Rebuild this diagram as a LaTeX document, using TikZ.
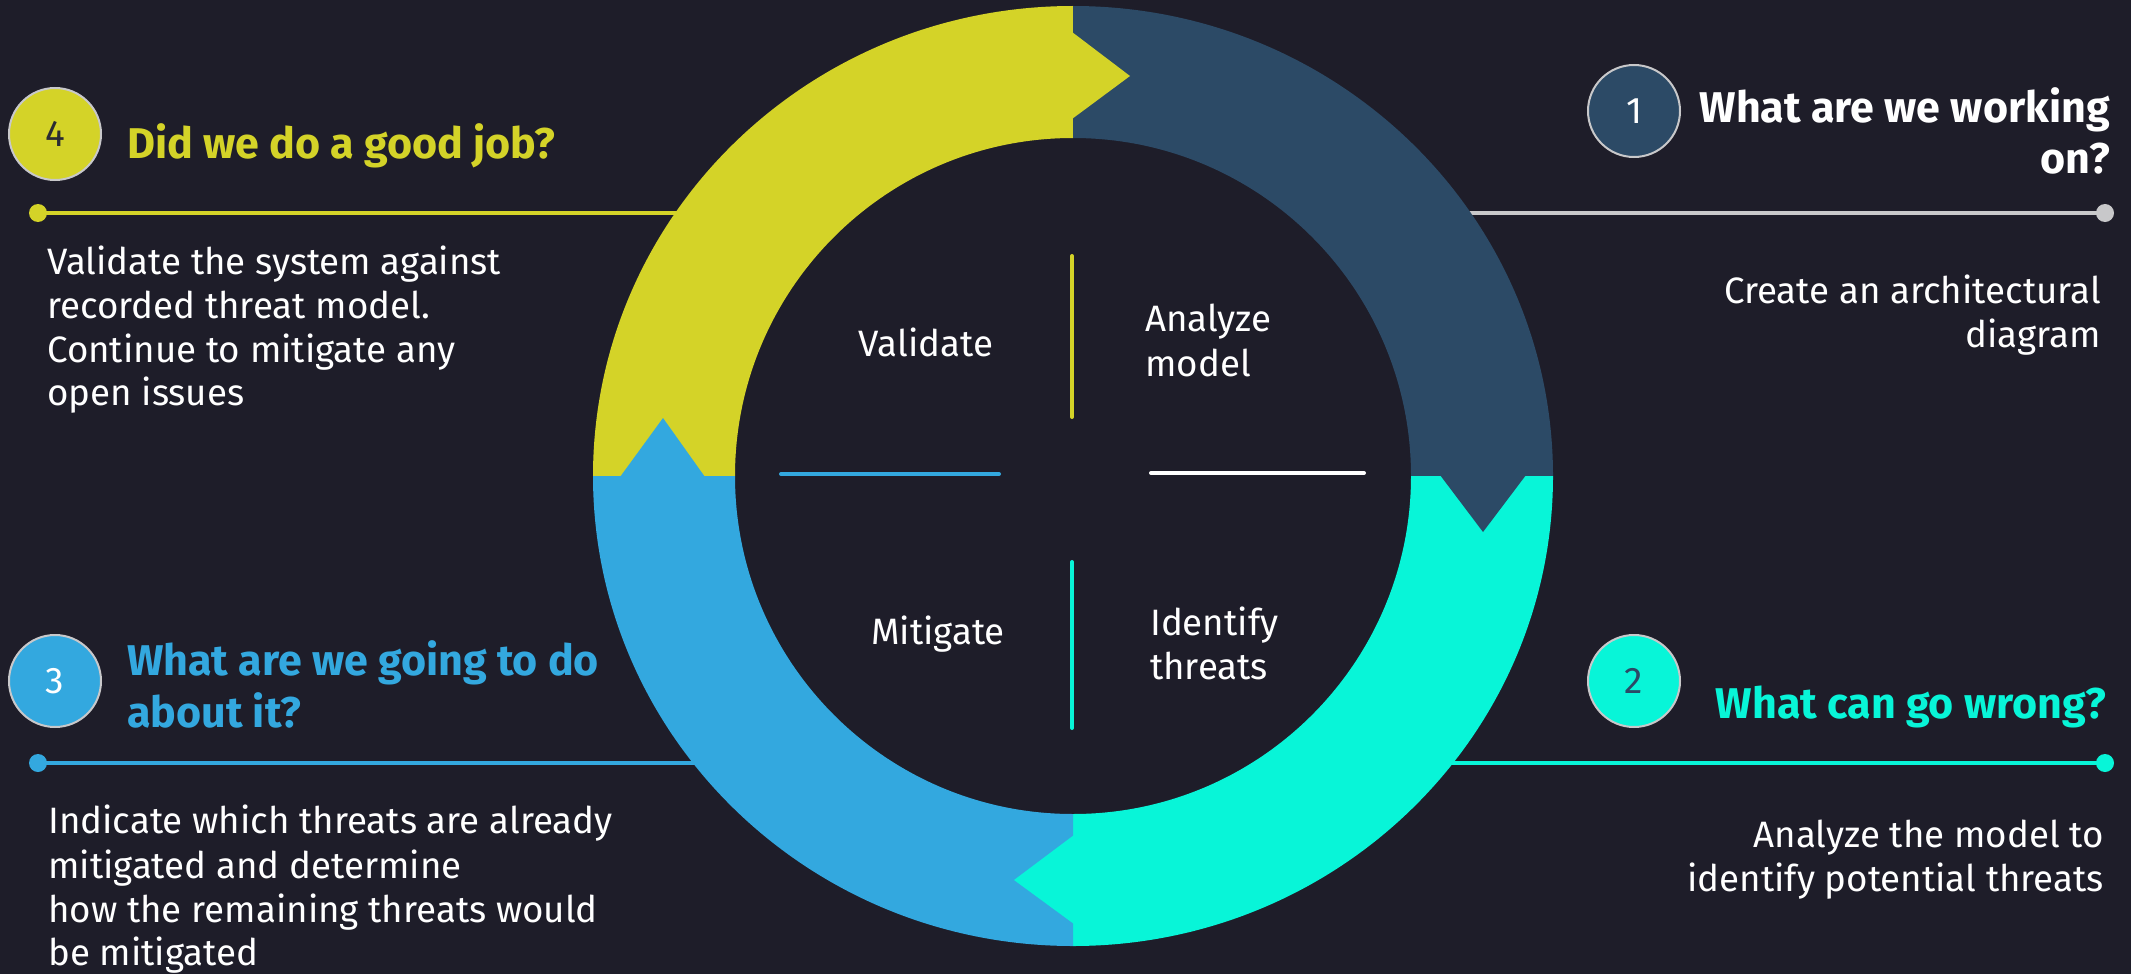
\documentclass[tikz,border=0pt]{standalone}
\usepackage{fontspec}
\setmainfont{Fira Sans}
\begin{document}
\begin{tikzpicture}[x=1pt,y=-1pt]
% palette
\definecolor{bg}{HTML}{1E1D29}
\definecolor{cyel}{HTML}{D4D328}
\definecolor{cnavy}{HTML}{2C4A66}
\definecolor{ccyan}{HTML}{08F5D8}
\definecolor{cblue}{HTML}{33A8DF}
\definecolor{cgray}{HTML}{C8C8CA}
\definecolor{cdark}{HTML}{2A2B33}
\tikzset{
  heading/.style={font=\fontsize{43}{51}\selectfont\bfseries, inner sep=0pt},
  bodytxt/.style={font=\fontsize{36.7}{44}\selectfont, text=white, inner sep=0pt},
  numc/.style={circle, minimum size=92pt, draw=cgray, line width=2pt, inner sep=0pt,
               font=\fontsize{37}{40}\selectfont},
  endpt/.style={circle, minimum size=18pt, inner sep=0pt, fill=#1},
  hline/.style={line width=4pt, draw=#1},
  midbar/.style={line width=4pt, line cap=round, draw=#1},
}
% background and bounding box
\fill[bg] (0,0) rectangle (2131,974);

% guide lines behind the ring
\node[endpt=cyel]  (d4) at (38,213) {};
\node[endpt=cgray] (d1) at (2105,213) {};
\node[endpt=cblue] (d3) at (38,763) {};
\node[endpt=ccyan] (d2) at (2105,763) {};
\coordinate (e4) at (700,213);
\coordinate (e1) at (1450,213);
\coordinate (e3) at (720,763);
\coordinate (e2) at (1430,763);
\draw[hline=cyel]  (d4.center) -- (e4);
\draw[hline=cgray] (e1) -- (d1.center);
\draw[hline=cblue] (d3.center) -- (e3);
\draw[hline=ccyan] (e2) -- (d2.center);

% ring quadrants
\fill[cyel]  (593,476) arc[start angle=180, end angle=270, x radius=480, y radius=470]
             -- (1073,138) arc[start angle=270, end angle=180, radius=338] -- cycle;
\fill[cnavy] (1073,6) arc[start angle=270, end angle=360, x radius=480, y radius=470]
             -- (1411,476) arc[start angle=0, end angle=-90, radius=338] -- cycle;
\fill[ccyan] (1553,476) arc[start angle=0, end angle=90, x radius=480, y radius=470]
             -- (1073,814) arc[start angle=90, end angle=0, radius=338] -- cycle;
\fill[cblue] (1073,946) arc[start angle=90, end angle=180, x radius=480, y radius=470]
             -- (735,476) arc[start angle=180, end angle=90, radius=338] -- cycle;

% arrow heads where each quadrant hands over to the next
\fill[cyel]  (1072,32) -- (1130,76) -- (1072,119) -- cycle;
\fill[cnavy] (1440,475) -- (1483,532) -- (1526,475) -- cycle;
\fill[ccyan] (1074,835) -- (1014,880) -- (1074,924) -- cycle;
\fill[cblue] (620,477) -- (663,418) -- (705,477) -- cycle;

% cross in the middle
\draw[midbar=cyel]  (1072,256) -- (1072,417);
\draw[midbar=ccyan] (1072,562) -- (1072,728);
\draw[midbar=cblue] (781,474) -- (999,474);
\draw[midbar=white] (1151,473) -- (1364,473);

% inner labels
\node[bodytxt, anchor=base] (lval) at (926,356) {Validate};
\node[bodytxt, anchor=base west] (lana1) at (1145,331) {Analyze};
\node[bodytxt, anchor=base west] (lana2) at (1145,376) {model};
\node[bodytxt, anchor=base] (lmit) at (938,644) {Mitigate};
\node[bodytxt, anchor=base west] (lid1) at (1150,635) {Identify};
\node[bodytxt, anchor=base west] (lid2) at (1150,679) {threats};

% numbered badges
\node[numc, fill=cyel,  text=cdark]  (n4) at (55,134) {4};
\node[numc, fill=cnavy, text=white]  (n1) at (1634,111) {1};
\node[numc, fill=ccyan, text=cnavy]  (n2) at (1634,681) {2};
\node[numc, fill=cblue, text=white]  (n3) at (55,681) {3};

% step 1
\node[heading, text=white, anchor=base east] (h1a) at (2110,122) {What are we working};
\node[heading, text=white, anchor=base east] (h1b) at (2110,173) {on?};
\node[bodytxt, anchor=base east] (b1a) at (2101,303) {Create an architectural};
\node[bodytxt, anchor=base east] (b1b) at (2101,347) {diagram};

% step 2
\node[heading, text=ccyan, anchor=base east] (h2) at (2106,718) {What can go wrong?};
\node[bodytxt, anchor=base east] (b2a) at (2104,847) {Analyze the model to};
\node[bodytxt, anchor=base east] (b2b) at (2104,891) {identify potential threats};

% step 3
\node[heading, text=cblue, anchor=base west] (h3a) at (127,675) {What are we going to do};
\node[heading, text=cblue, anchor=base west] (h3b) at (127,727) {about it?};
\node[bodytxt, anchor=base west] (b3a) at (48,833) {Indicate which threats are already};
\node[bodytxt, anchor=base west] (b3b) at (48,878) {mitigated and determine};
\node[bodytxt, anchor=base west] (b3c) at (48,922) {how the remaining threats would};
\node[bodytxt, anchor=base west] (b3d) at (48,965) {be mitigated};

% step 4
\node[heading, text=cyel, anchor=base west] (h4) at (127,158) {Did we do a good job?};
\node[bodytxt, anchor=base west] (b4a) at (47,274) {Validate the system against};
\node[bodytxt, anchor=base west] (b4b) at (47,318) {recorded threat model.};
\node[bodytxt, anchor=base west] (b4c) at (47,362) {Continue to mitigate any};
\node[bodytxt, anchor=base west] (b4d) at (47,405) {open issues};
\end{tikzpicture}
\end{document}
